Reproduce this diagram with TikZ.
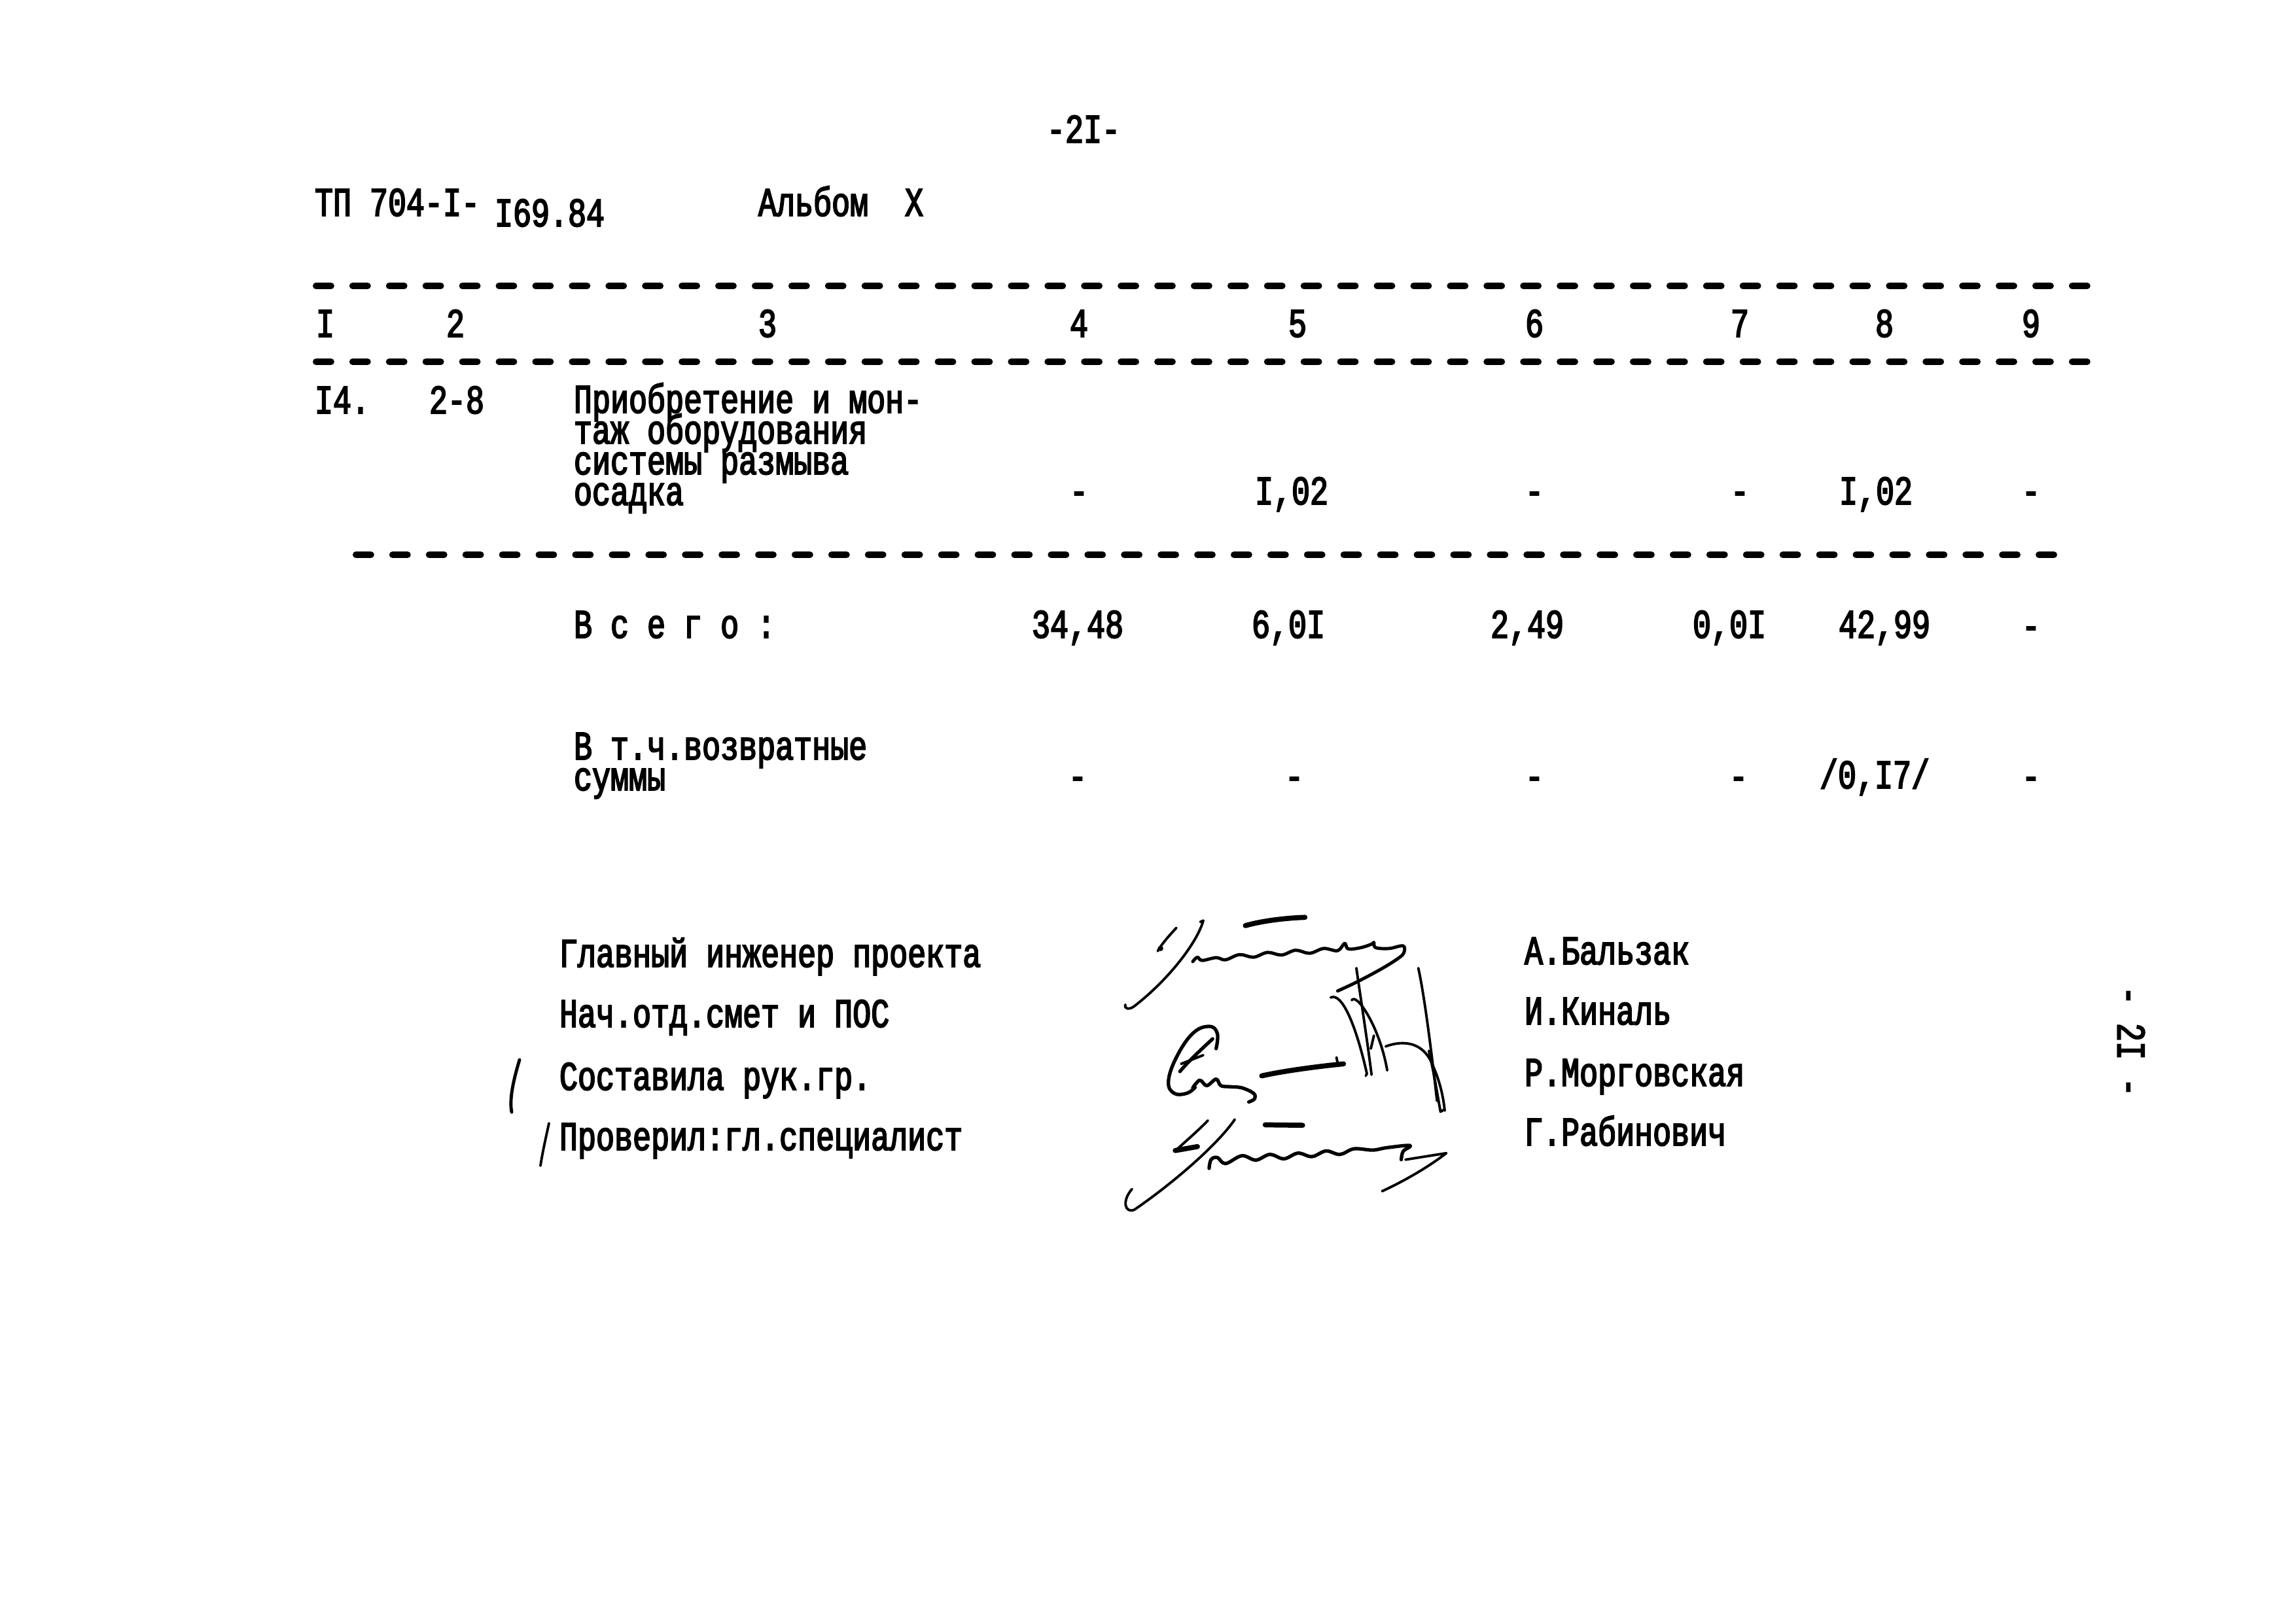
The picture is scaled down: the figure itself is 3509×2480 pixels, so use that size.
\documentclass[tikz,border=0pt]{standalone}
\usepackage{fontspec}
\newfontfamily\twfam[FakeStretch=0.75,FakeBold=3]{Liberation Mono}
\newcommand\twf{\twfam\fontsize{17.7pt}{13.1pt}\selectfont}
\begin{document}
\begin{tikzpicture}[x=0.01cm,y=-0.01cm,
  tw/.style={inner sep=0pt, outer sep=0pt, font=\twf, anchor=base west},
  twc/.style={inner sep=0pt, outer sep=0pt, font=\twf, anchor=base},
  rule/.style={line width=2.85pt, line cap=round, dash pattern=on 6.5pt off 9.4pt},
  sig/.style={line width=1.1pt, line cap=round, line join=round},
  sigb/.style={line width=2.2pt, line cap=round, line join=round}]
\fill[white] (0,0) rectangle (3509,2480);
\useasboundingbox (0,0) rectangle (3509,2480);

% page header
\node[twc] (pg) at (1656,218) {-2I-};
\node[tw] (code) at (481,330) {ТП 704-I-};
\node[tw] (code2) at (756,346) {I69.84};
\node[tw] (album) at (1159,330) {Альбом};
\node[twc] (albumx) at (1397,330) {X};

% rules
\coordinate (r1a) at (483,437); \coordinate (r1b) at (3212,437);
\coordinate (r2a) at (483,553); \coordinate (r2b) at (3208,553);
\coordinate (r3a) at (544,848); \coordinate (r3b) at (3155,848);
\draw[rule] (r1a) -- (r1b);
\draw[rule] (r2a) -- (r2b);
\draw[rule] (r3a) -- (r3b);

% column numbers
\node[twc] (h1) at (497,515) {I};
\node[twc] (h2) at (696,515) {2};
\node[twc] (h3) at (1173,515) {3};
\node[twc] (h4) at (1649,515) {4};
\node[twc] (h5) at (1983,515) {5};
\node[twc] (h6) at (2345,515) {6};
\node[twc] (h7) at (2659,515) {7};
\node[twc] (h8) at (2880,515) {8};
\node[twc] (h9) at (3104,515) {9};

% row 14
\node[tw] (n14) at (481,632) {I4.};
\node[tw] (r14) at (656,632) {2-8};
\node[tw] (t1) at (877,631) {Приобретение и мон-};
\node[tw] (t2) at (877,678) {таж оборудования};
\node[tw] (t3) at (877,725) {системы размыва};
\node[tw] (t4) at (877,772) {осадка};
\node[twc] (v4) at (1649,771) {-};
\node[twc] (v5) at (1974,771) {I,02};
\node[twc] (v6) at (2345,771) {-};
\node[twc] (v7) at (2659,771) {-};
\node[twc] (v8) at (2867,771) {I,02};
\node[twc] (v9) at (3104,771) {-};

% total
\node[tw] (tot) at (877,975) {В с е г о :};
\node[twc] (s4) at (1647,975) {34,48};
\node[twc] (s5) at (1969,975) {6,0I};
\node[twc] (s6) at (2334,975) {2,49};
\node[twc] (s7) at (2643,975) {0,0I};
\node[twc] (s8) at (2880,975) {42,99};
\node[twc] (s9) at (3104,977) {-};

% returnable sums
\node[tw] (ret1) at (877,1161) {В т.ч.возвратные};
\node[tw] (ret2) at (877,1208) {суммы};
\node[twc] (w4) at (1647,1207) {-};
\node[twc] (w5) at (1978,1207) {-};
\node[twc] (w6) at (2345,1207) {-};
\node[twc] (w7) at (2657,1207) {-};
\node[twc] (w8) at (2865,1205) {/0,I7/};
\node[twc] (w9) at (3104,1207) {-};

% signatures block
\node[tw] (p1) at (855,1478) {Главный инженер проекта};
\node[tw] (p2) at (855,1570) {Нач.отд.смет и ПОС};
\node[tw] (p3) at (855,1666) {Составила рук.гр.};
\node[tw] (p4) at (855,1758) {Проверил:гл.специалист};
\node[tw] (m1) at (2330,1474) {А.Бальзак};
\node[tw] (m2) at (2330,1566) {И.Киналь};
\node[tw] (m3) at (2330,1660) {Р.Морговская};
\node[tw] (m4) at (2330,1751) {Г.Рабинович};

% side page number
\node[twc, anchor=center, rotate=-90] (side) at (3257,1592) {- 2I -};

% hand marks at left
\draw[sig, line width=1.4pt] (794,1620) .. controls (785,1650) and (778,1680) .. (782,1700);
\draw[sig] (839,1717) .. controls (834,1740) and (829,1762) .. (826,1782);

% handwritten signatures
\begin{scope}[shift={(1680,1370)}, x=0.003571cm, y=-0.003333cm]
  % signature 1
  \draw[sig] (330,145) .. controls (300,180) and (270,215) .. (250,252);
  \fill (262,240) circle (12);
  \draw[sig] (432,118) -- (445,112);
  \draw[sig] (445,112) .. controls (420,210) and (300,380) .. (150,505)
     .. controls (125,525) and (105,515) .. (112,498);
  \draw[sig, line width=1.4pt] plot[smooth, tension=0.6] coordinates {(400,300) (420,280) (440,295) (500,282) (540,292)
     (600,268) (660,280) (720,258) (780,270) (840,248) (900,262) (960,240)
     (1020,250) (1050,216) (1065,242) (1120,236) (1165,220) (1175,212) (1182,236)
     (1240,240) (1300,228) (1302,262) (1270,292) (1200,338) (1100,395) (1020,435)};
  \draw[sigb] (625,135) .. controls (700,112) and (800,100) .. (880,97);
  % signature 2
  \draw[sig, line width=1.5pt] plot[smooth, tension=0.7] coordinates {(500,700) (505,630) (470,598) (400,630)
     (330,740) (296,850) (320,905) (375,905) (410,878)};
  \draw[sig, line width=1.5pt] (485,655) .. controls (430,710) and (380,760) .. (345,805);
  \draw[sig] (350,770) -- (445,730);
  \draw[sig, line width=1.5pt] plot[smooth, tension=0.6] coordinates {(400,880) (430,845) (460,870)
     (500,840) (520,870) (560,875) (610,880) (660,905) (665,930) (640,945)};
  \draw[sigb] (695,825) .. controls (800,800) and (950,780) .. (1045,770);
  \draw[sig] (1015,740) -- (1020,768);
  \draw[sig] (1100,330) .. controls (1120,480) and (1145,650) .. (1165,820);
  \draw[sig] (990,465) .. controls (1040,440) and (1100,600) .. (1145,815) -- (1140,825);
  \draw[sig] (1080,478) .. controls (1100,440) and (1200,600) .. (1232,800);
  \draw[sig] (1175,640) -- (1162,700);
  \draw[sig] (1225,690) .. controls (1300,660) and (1380,670) .. (1420,760) .. controls (1450,830) and (1470,900) .. (1478,985);
  \draw[sig] (1365,330) .. controls (1390,450) and (1420,700) .. (1445,940);
  \draw[sig] (1410,710) .. controls (1430,800) and (1445,900) .. (1460,990) -- (1475,980);
  % signature 3
  \draw[sig] (465,1030) .. controls (420,1080) and (370,1125) .. (330,1165);
  \draw[sigb] (325,1168) -- (420,1150);
  \draw[sig] (580,1025) .. controls (500,1150) and (300,1330) .. (150,1440)
     .. controls (110,1458) and (95,1400) .. (140,1345);
  \draw[sigb] (710,1050) -- (870,1052);
  \draw[sig, line width=1.5pt] plot[smooth, tension=0.6] coordinates {(470,1250) (478,1210) (505,1200) (540,1228)
     (610,1192) (670,1212) (730,1186) (790,1206) (850,1180) (910,1196) (970,1170)
     (1030,1186) (1090,1160) (1170,1166) (1230,1155) (1330,1145)
     (1300,1172) (1292,1210)};
  \draw[sig] (1310,1210) -- (1485,1180) .. controls (1400,1250) and (1300,1310) .. (1210,1355);
\end{scope}
\end{tikzpicture}
\end{document}
